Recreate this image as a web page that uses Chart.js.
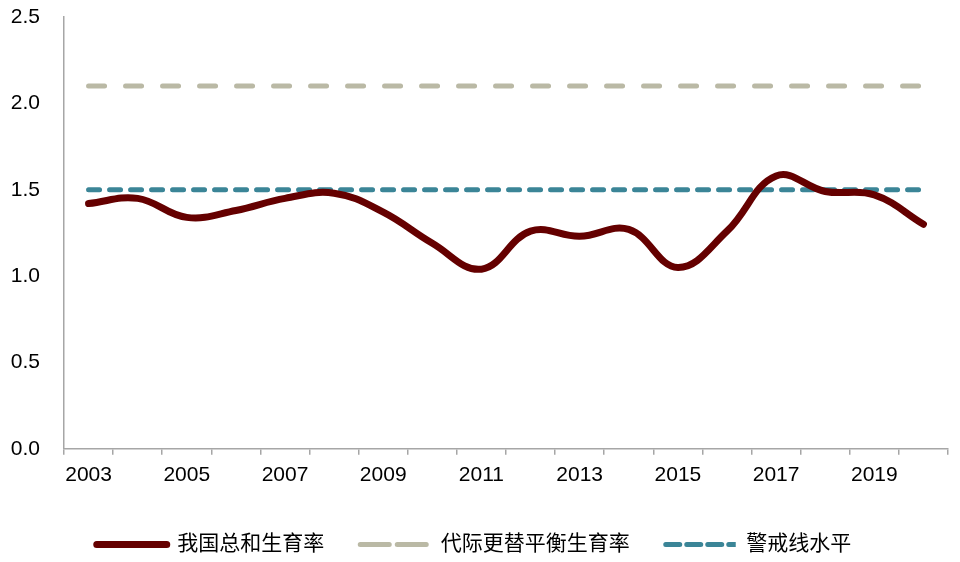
<!DOCTYPE html>
<html>
<head>
<meta charset="utf-8">
<script src="https://cdn.jsdelivr.net/npm/chart.js@4/dist/chart.umd.min.js"></script>
<style>
html,body{margin:0;padding:0;background:#fff;}
#wrap{width:960px;height:562px;position:relative;}
</style>
</head>
<body>
<div id="wrap"><canvas id="c" width="960" height="562"></canvas></div>
<script>
const years = ['2003','2004','2005','2006','2007','2008','2009','2010','2011','2012','2013','2014','2015','2016','2017','2018','2019','2020'];
const tfrChina = [1.42,1.45,1.34,1.38,1.45,1.48,1.37,1.19,1.04,1.26,1.23,1.27,1.05,1.26,1.58,1.49,1.47,1.30];
const replacementRate = [2.1,2.1,2.1,2.1,2.1,2.1,2.1,2.1,2.1,2.1,2.1,2.1,2.1,2.1,2.1,2.1,2.1,2.1];
const warningLevel = [1.5,1.5,1.5,1.5,1.5,1.5,1.5,1.5,1.5,1.5,1.5,1.5,1.5,1.5,1.5,1.5,1.5,1.5];
const seriesNames = ['我国总和生育率','代际更替平衡生育率','警戒线水平'];
const yTicks = [0,0.5,1.0,1.5,2.0,2.5];

const FONT = '"Liberation Sans", Arial, "Noto Sans CJK SC", sans-serif';

new Chart(document.getElementById('c'), {
  type: 'line',
  data: {
    labels: years,
    datasets: [
      {
        label: seriesNames[0], data: tfrChina,
        borderColor: '#650000', backgroundColor: 'transparent',
        borderWidth: 7, tension: 0.4,
        pointRadius: 0, borderCapStyle: 'round', borderJoinStyle: 'round'
      },
      {
        label: seriesNames[1], data: replacementRate,
        borderColor: '#BAB9A5', backgroundColor: 'transparent',
        borderWidth: 5, borderDash: [16, 21], borderCapStyle: 'round',
        pointRadius: 0
      },
      {
        label: seriesNames[2], data: warningLevel,
        borderColor: '#3B8597', backgroundColor: 'transparent',
        borderWidth: 5, borderDash: [11, 10], borderCapStyle: 'round',
        pointRadius: 0
      }
    ]
  },
  options: {
    responsive: false,
    animation: false,
    layout: { padding: { left: 0, right: 12, top: 17, bottom: -3 } },
    plugins: {
      tooltip: { enabled: false },
      legend: {
        position: 'bottom',
        labels: {
          color: '#000',
          font: { family: FONT, size: 21 },
          boxWidth: 70,
          boxHeight: 0,
          padding: 36
        }
      }
    },
    scales: {
      x: {
        offset: true,
        afterFit: (axis) => { axis.paddingLeft = 0; axis.paddingRight = 0; axis.height += 2; },
        border: { display: true, color: '#A6A6A6', width: 1.5 },
        grid: { display: true, offset: true, drawOnChartArea: false, drawTicks: true, tickLength: 6, color: '#A6A6A6', lineWidth: 1.5 },
        ticks: {
          autoSkip: false, maxRotation: 0, color: '#000', padding: 8,
          font: { family: FONT, size: 21 },
          callback: function(v, i) { return i % 2 === 0 ? this.getLabelForValue(v) : ''; }
        }
      },
      y: {
        min: 0, max: 2.5,
        afterBuildTicks: (axis) => { axis.ticks = yTicks.map(v => ({ value: v })); },
        afterFit: (axis) => { axis.width = 64; axis.paddingTop = 0; axis.paddingBottom = 0; },
        border: { display: true, color: '#A6A6A6', width: 1.5 },
        grid: { display: false, drawTicks: false },
        ticks: {
          color: '#000', padding: 24,
          font: { family: FONT, size: 21 },
          callback: (v) => Number(v).toFixed(1)
        }
      }
    }
  }
});
</script>
</body>
</html>
